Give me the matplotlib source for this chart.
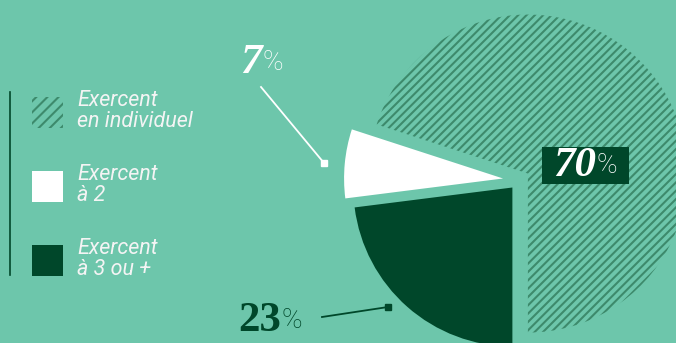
import matplotlib
matplotlib.use("Agg")
import matplotlib.pyplot as plt
from matplotlib.patches import Rectangle

# données
categories = ["Exercent\nen individuel", "Exercent\nà 2", "Exercent\nà 3 ou +"]
parts = [70, 7, 23]

BG = "#6dc6ab"
DARK = "#00472a"
HATCH = "#3d8a6c"
WHITE = "#ffffff"

plt.rcParams["hatch.linewidth"] = 1.5

W, H = 676, 343
fig = plt.figure(figsize=(W / 100, H / 100), dpi=100)
fig.patch.set_facecolor(BG)
ax = fig.add_axes([0, 0, 1, 1])
ax.set_facecolor(BG)

# camembert (coordonnées en pixels, axe y vers le bas)
wedges, _ = ax.pie(parts, center=(519, 180), radius=159, startangle=90,
                   counterclock=False, explode=[11, 16, 10],
                   colors=[BG, WHITE, DARK])
wedges[0].set_hatch("////")
wedges[0].set_edgecolor(HATCH)
wedges[0].set_linewidth(0)
for w in wedges[1:]:
    w.set_linewidth(0)

ax.set_xlim(0, W)
ax.set_ylim(H, 0)
ax.set_aspect("equal")
ax.axis("off")

# légende
ax.plot([10, 10], [92, 275], color=DARK, lw=1.2)
leg_y = [97, 171, 245]
for i, (lab, y) in enumerate(zip(categories, leg_y)):
    if i == 0:
        r = Rectangle((32, y), 31, 31, facecolor=BG, edgecolor=HATCH,
                      hatch="///", lw=0)
    else:
        r = Rectangle((32, y), 31, 31, facecolor=[WHITE, WHITE, DARK][i], lw=0)
    ax.add_patch(r)
    ax.text(77, y + 14, lab, family="Roboto", style="italic", fontsize=15.5,
            color="#f4f4f4", va="center", ha="left", linespacing=0.95)


def pct(x, y, val, color, italic):
    t = ax.text(x, y, str(val), family="Liberation Serif", weight="bold",
                style="italic" if italic else "normal", fontsize=31,
                color=color, ha="left", va="center")
    ax.annotate("%", xy=(1, 0.15), xycoords=t, xytext=(0.5, 0),
                textcoords="offset points", family="Roboto", weight="light",
                fontsize=20, color=color, ha="left", va="bottom")
    return t


# 70 %
ax.add_patch(Rectangle((542, 147), 87, 37, facecolor=DARK, lw=0))
pct(553, 166, parts[0], WHITE, True)

# 7 %
pct(240, 63, parts[1], WHITE, True)
ax.plot([261, 324], [87, 163], color=WHITE, lw=1.3)
ax.plot([324], [163], marker="s", ms=4.5, color=WHITE)

# 23 %
pct(238, 321, parts[2], DARK, False)
ax.plot([322, 388], [317, 307], color=DARK, lw=1.3)
ax.plot([388], [307], marker="s", ms=4.5, color=DARK)

fig.savefig("out.png", dpi=100, facecolor=BG)
